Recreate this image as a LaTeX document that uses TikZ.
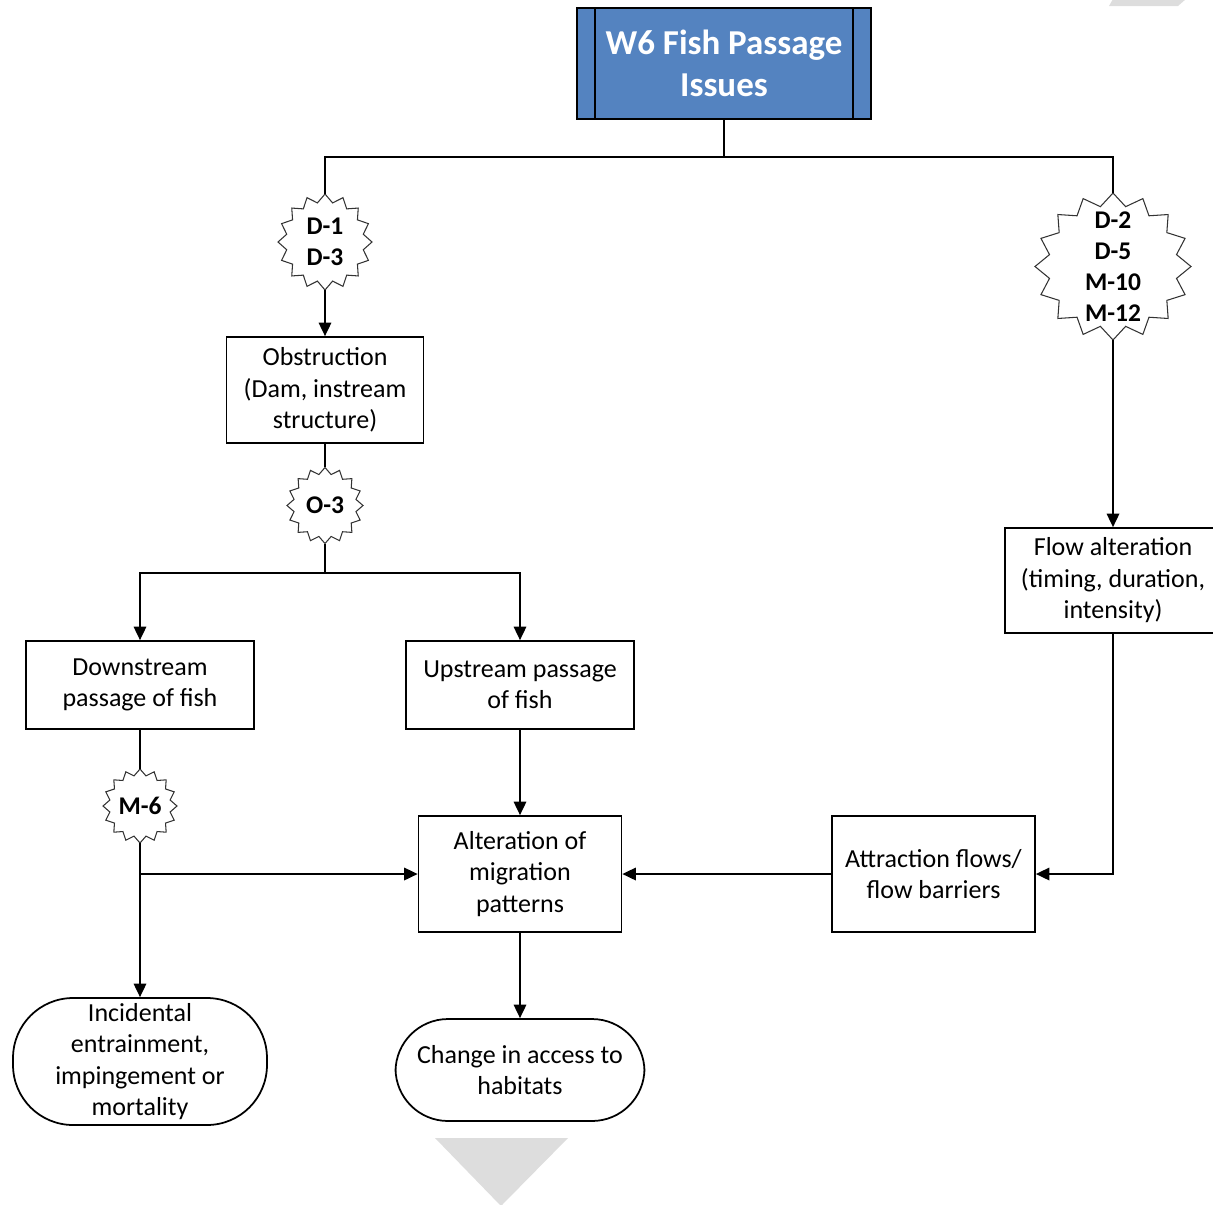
\documentclass[tikz,border=0pt]{standalone}
\usepackage{fontspec}
\setmainfont{Carlito}
\usetikzlibrary{arrows.meta,calc}
\definecolor{titleblue}{RGB}{84,131,192}
\definecolor{pagegray}{RGB}{221,221,221}
\begin{document}
\begin{tikzpicture}[x=0.02cm,y=-0.02cm,
  box/.style={draw,line width=1pt,inner sep=0pt,align=center,
    font=\fontsize{14.8pt}{17.9pt}\selectfont},
  term/.style={box,rounded corners=1.05cm},
  burst/.style={inner sep=0pt,align=center,
    font=\fontsize{14.5pt}{17.7pt}\selectfont\bfseries},
  burstline/.style={draw=black!80,line width=0.6pt,line join=miter},
  link/.style={line width=1pt},
  arr/.style={link,-{Triangle[length=0.27cm,width=0.25cm]}}]
\useasboundingbox (0,0) rectangle (1213,1204);
\clip (0,0) rectangle (1213,1204);

% faint page decorations
\fill[pagegray] (435,1138) -- (568,1138) -- (501,1206) -- cycle;
\fill[pagegray] (1109,6) -- (1178,6) -- (1186,-1) -- (1113,-1) -- cycle;

% title block
\node[box,fill=titleblue,text=white,minimum width=5.88cm,minimum height=2.22cm,
  font=\fontsize{19.9pt}{23.9pt}\selectfont\bfseries] (title) at (724,63.5)
  {W6 Fish Passage\\Issues};
\draw[line width=1pt] ($(title.north west)+(19,0)$) -- ($(title.south west)+(19,0)$);
\draw[line width=1pt] ($(title.north east)+(-19,0)$) -- ($(title.south east)+(-19,0)$);

% process boxes
\node[box,minimum width=3.94cm,minimum height=2.12cm] (obstr) at (325,390)
  {Obstruction\\(Dam, instream\\structure)};
\node[box,minimum width=4.56cm,minimum height=1.76cm] (down) at (140,685)
  {Downstream\\passage of fish};
\node[box,minimum width=4.56cm,minimum height=1.76cm] (up) at (520,685)
  {Upstream passage\\of fish};
\node[box,minimum width=4.06cm,minimum height=2.32cm] (alter) at (520,874)
  {Alteration of\\migration\\patterns};
\node[box,minimum width=4.06cm,minimum height=2.32cm] (attr) at (933.5,874)
  {Attraction flows/\\flow barriers};
\node[box,minimum width=4.32cm,minimum height=2.10cm] (flow) at (1113,580.5)
  {Flow alteration\\(timing, duration,\\intensity)};

% outcomes
\node[term,minimum width=4.98cm,minimum height=2.04cm] (change) at (520,1070)
  {Change in access to\\habitats};
\node[term,rounded corners=1.2cm,minimum width=5.08cm,minimum height=2.54cm] (incid) at (140,1061.5)
  {Incidental\\entrainment,\\impingement or\\mortality};

% code bursts
\node[burst,minimum width=1.88cm,minimum height=1.92cm] (b1) at (325,242) {D-1\\D-3};
\node[burst,minimum width=3.12cm,minimum height=2.94cm] (b2) at (1113,266.5) {D-2\\D-5\\M-10\\M-12};
\node[burst,minimum width=1.52cm,minimum height=1.52cm] (b3) at (325,505.5) {O-3};
\node[burst,minimum width=1.48cm,minimum height=1.48cm] (b4) at (140,806) {M-6};
\foreach \n/\a/\b in {b1/47/48,b2/78/73.5,b3/38/38,b4/37/37}
  \draw[burstline,shift={(\n.center)}]
    plot[samples at={0,...,32}]
    ({(1-0.17*mod(\x,2))*\a*cos(90+\x*11.25)},{(1-0.17*mod(\x,2))*\b*sin(90+\x*11.25)})
    -- cycle;

% connectors
\coordinate (hub) at (724,157);
\coordinate (split) at (325,573);
\draw[link] (title.south) -- (hub);
\draw[link] (b1.north) -- (b1.north |- hub) -- (b2.north |- hub) -- (b2.north);
\draw[arr] (b1.south) -- (obstr.north);
\draw[link] (obstr.south) -- (b3.north);
\draw[arr] (b3.south) -- (split) -| (down.north);
\draw[arr] (split) -| (up.north);
\draw[link] (down.south) -- (b4.north);
\draw[arr] (b4.south) -- (incid.north);
\draw[arr] (b4.south |- alter.west) -- (alter.west);
\draw[arr] (up.south) -- (alter.north);
\draw[arr] (alter.south) -- (change.north);
\draw[arr] (b2.south) -- (flow.north);
\draw[arr] (flow.south) |- (attr.east);
\draw[arr] (attr.west) -- (alter.east);
\end{tikzpicture}
\end{document}
